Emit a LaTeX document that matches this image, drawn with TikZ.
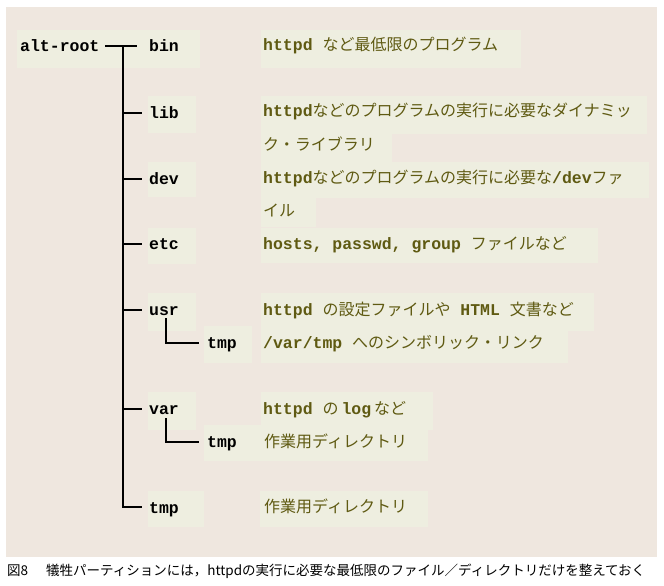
\documentclass[tikz,border=0pt]{standalone}
\usepackage{fontspec}
\newfontfamily\jp{Noto Sans CJK JP}
\newfontfamily\mono[Scale=1.03]{Liberation Mono}
\definecolor{panel}{HTML}{EFE7DF}
\definecolor{boxc}{HTML}{EEEEE0}
\definecolor{olive}{HTML}{5F5A12}
\newcommand\mt[1]{{\mono\bfseries #1}}
\tikzset{
  lbl/.style={anchor=base west, inner sep=0pt, font=\fontsize{16}{16}\selectfont\mono\bfseries},
  dsc/.style={anchor=base west, inner sep=0pt, text=olive, font=\fontsize{16}{16}\selectfont\jp},
  boxfill/.style={fill=boxc},
  tree/.style={draw=black, line width=1.1pt}
}
\begin{document}
\begin{tikzpicture}[x=1pt,y=-1pt]
\useasboundingbox (0,0) rectangle (664,586);
\fill[white] (0,0) rectangle (664,586);
\fill[panel] (6,7) rectangle (657,557);
% boxes
\fill[boxfill] (17,30) rectangle (200,68);
\fill[boxfill] (261,30) rectangle (521,68);
\fill[boxfill] (148,96) rectangle (196,133);
\fill[boxfill] (261,96) rectangle (647,134);
\fill[boxfill] (261,134) rectangle (392,162);
\fill[boxfill] (148,162) rectangle (196,197);
\fill[boxfill] (261,162) rectangle (649,198);
\fill[boxfill] (261,198) rectangle (316,227);
\fill[boxfill] (148,228) rectangle (196,264);
\fill[boxfill] (261,228) rectangle (598,263);
\fill[boxfill] (148,293) rectangle (196,331);
\fill[boxfill] (204,326) rectangle (252,363);
\fill[boxfill] (261,293) rectangle (594,331);
\fill[boxfill] (261,331) rectangle (568,363);
\fill[boxfill] (148,392) rectangle (196,430);
\fill[boxfill] (204,425) rectangle (261,461);
\fill[boxfill] (261,392) rectangle (433,430);
\fill[boxfill] (250,430) rectangle (428,461);
\fill[boxfill] (148,491) rectangle (204,527);
\fill[boxfill] (260,491) rectangle (428,527);
% labels
\node[lbl] (altroot) at (20,52) {alt-root};
\node[lbl] (bin) at (149,52) {bin};
\node[lbl] (lib) at (149,118) {lib};
\node[lbl] (dev) at (149,184) {dev};
\node[lbl] (etc) at (149,249) {etc};
\node[lbl] (usr) at (149,315) {usr};
\node[lbl] (usrtmp) at (207,348) {tmp};
\node[lbl] (var) at (149,414) {var};
\node[lbl] (vartmp) at (207,447) {tmp};
\node[lbl] (tmp) at (149,513) {tmp};
% descriptions
\node[dsc] (dbin) at (263,51) {\mt{httpd }など最低限のプログラム};
\node[dsc] (dlib1) at (263,117) {\mt{httpd}などのプログラムの実行に必要なダイナミッ};
\node[dsc] (dlib2) at (263,150) {ク・ライブラリ};
\node[dsc] (ddev1) at (263,183) {\mt{httpd}などのプログラムの実行に必要な\mt{/dev}ファ};
\node[dsc] (ddev2) at (263,216) {イル};
\node[dsc] (detc) at (263,249) {\mt{hosts, passwd, group }ファイルなど};
\node[dsc] (dusr1) at (263,315) {\mt{httpd }の設定ファイルや\mt{ HTML }文書など};
\node[dsc] (dusr2) at (263,348) {\mt{/var/tmp }へのシンボリック・リンク};
\node[dsc] (dvar1) at (263,414) {\mt{httpd }の\hspace{3pt}\mt{log}\hspace{3pt}など};
\node[dsc] (dvar2) at (264,447) {作業用ディレクトリ};
\node[dsc] (dtmp) at (264,512) {作業用ディレクトリ};
% tree
\coordinate (r0) at (105,46);
\coordinate (j0) at (123,46);
\coordinate (r1) at (137,46);
\coordinate (jl) at (123,113);
\coordinate (el) at (142,113);
\coordinate (jd) at (123,179);
\coordinate (ed) at (142,179);
\coordinate (je) at (123,244);
\coordinate (ee) at (142,244);
\coordinate (ju) at (123,310);
\coordinate (eu) at (142,310);
\coordinate (jv) at (123,409);
\coordinate (ev) at (142,409);
\coordinate (et) at (142,507);
\coordinate (us) at (166,318);
\coordinate (ue) at (199,343);
\coordinate (vs) at (166,418);
\coordinate (ve) at (199,442);
\draw[tree] (r0) -- (r1);
\draw[tree] (j0) |- (et);
\draw[tree] (jl) -- (el);
\draw[tree] (jd) -- (ed);
\draw[tree] (je) -- (ee);
\draw[tree] (ju) -- (eu);
\draw[tree] (jv) -- (ev);
\draw[tree] (us) |- (ue);
\draw[tree] (vs) |- (ve);
% caption
\node[anchor=base west, inner sep=0pt, font=\fontsize{13.5}{13.5}\selectfont\jp] (cap) at (7,575) {図8\hspace{18pt}犠牲パーティションには，httpdの実行に必要な最低限のファイル／ディレクトリだけを整えておく};
\end{tikzpicture}
\end{document}
